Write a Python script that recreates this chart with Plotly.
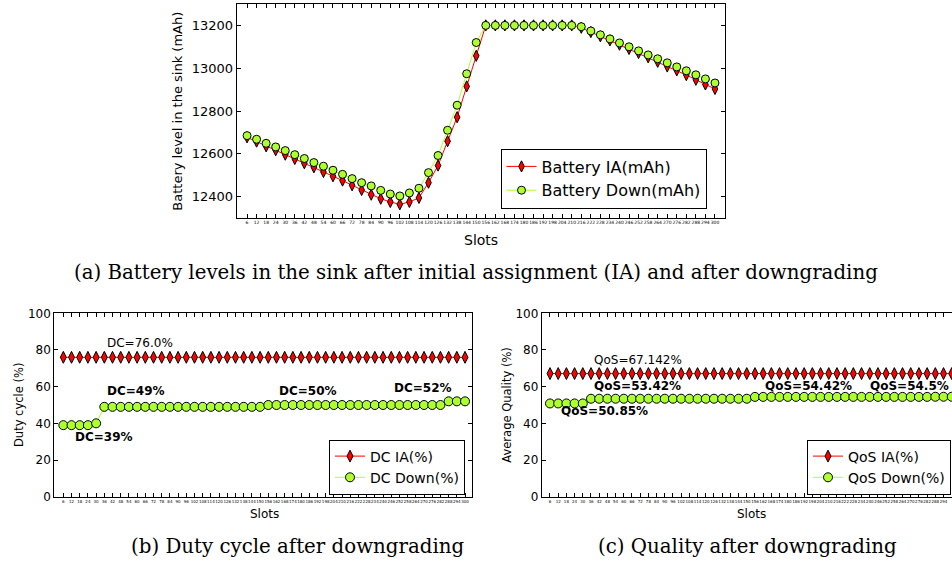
import plotly.graph_objects as go

W, H = 952, 563

slots = [6, 12, 18, 24, 30, 36, 42, 48, 54, 60, 66, 72, 78, 84, 90, 96, 102, 108, 114, 120,
         126, 132, 138, 144, 150, 156, 162, 168, 174, 180, 186, 192, 198, 204, 210, 216, 222,
         228, 234, 240, 246, 252, 258, 264, 270, 276, 282, 288, 294, 300]

battery_ia = [12677, 12657, 12635, 12617, 12596, 12576, 12556, 12537, 12515, 12495,
              12475, 12453, 12431, 12409, 12390, 12375, 12364, 12375, 12394, 12465,
              12545, 12659, 12771, 12915, 13058, 13200, 13200, 13200, 13200, 13200,
              13200, 13200, 13200, 13200, 13200, 13189, 13169, 13149, 13130, 13110,
              13090, 13071, 13051, 13030, 13008, 12990, 12968, 12946, 12924, 12903]
battery_down = [12685, 12668, 12649, 12632, 12615, 12596, 12578, 12559, 12542, 12523,
                12504, 12484, 12465, 12450, 12429, 12412, 12403, 12417, 12439, 12512,
                12592, 12710, 12827, 12974, 13120, 13200, 13200, 13200, 13200, 13200,
                13200, 13200, 13200, 13200, 13200, 13194, 13174, 13156, 13137, 13118,
                13100, 13081, 13062, 13044, 13025, 13006, 12988, 12969, 12950, 12931]

dc_ia = [76.0, 76.0, 76.0, 76.0, 76.0, 76.0, 76.0, 76.0, 76.0, 76.0,
         76.0, 76.0, 76.0, 76.0, 76.0, 76.0, 76.0, 76.0, 76.0, 76.0,
         76.0, 76.0, 76.0, 76.0, 76.0, 76.0, 76.0, 76.0, 76.0, 76.0,
         76.0, 76.0, 76.0, 76.0, 76.0, 76.0, 76.0, 76.0, 76.0, 76.0,
         76.0, 76.0, 76.0, 76.0, 76.0, 76.0, 76.0, 76.0, 76.0, 76.0]
dc_down = [39, 39, 39, 39, 40, 49, 49, 49, 49, 49,
           49, 49, 49, 49, 49, 49, 49, 49, 49, 49,
           49, 49, 49, 49, 49, 50, 50, 50, 50, 50,
           50, 50, 50, 50, 50, 50, 50, 50, 50, 50,
           50, 50, 50, 50, 50, 50, 50, 52, 52, 52]

qos_ia = [67.142, 67.142, 67.142, 67.142, 67.142, 67.142, 67.142, 67.142, 67.142, 67.142,
          67.142, 67.142, 67.142, 67.142, 67.142, 67.142, 67.142, 67.142, 67.142, 67.142,
          67.142, 67.142, 67.142, 67.142, 67.142, 67.142, 67.142, 67.142, 67.142, 67.142,
          67.142, 67.142, 67.142, 67.142, 67.142, 67.142, 67.142, 67.142, 67.142, 67.142,
          67.142, 67.142, 67.142, 67.142, 67.142, 67.142, 67.142, 67.142, 67.142, 67.142]
qos_down = [50.85, 50.85, 50.85, 50.85, 50.85, 53.42, 53.42, 53.42, 53.42, 53.42,
            53.42, 53.42, 53.42, 53.42, 53.42, 53.42, 53.42, 53.42, 53.42, 53.42,
            53.42, 53.42, 53.42, 53.42, 53.42, 54.42, 54.42, 54.42, 54.42, 54.42,
            54.42, 54.42, 54.42, 54.42, 54.42, 54.42, 54.42, 54.42, 54.42, 54.42,
            54.42, 54.42, 54.42, 54.42, 54.42, 54.42, 54.42, 54.5, 54.5, 54.5]

battery_ticks = [12400, 12600, 12800, 13000, 13200]
pct_ticks = [0, 20, 40, 60, 80, 100]

RED = "#ff0000"
GREEN = "#adff2f"
FONT = "DejaVu Sans"
SERIF = "DejaVu Serif"

fig = go.Figure()


def add_pair(x, y_ia, y_down, name_ia, name_down, xa, ya, legend, dsize, csize):
    fig.add_trace(go.Scatter(
        x=x, y=y_ia, name=name_ia, mode="lines+markers", xaxis=xa, yaxis=ya, legend=legend,
        line=dict(color=RED, width=1),
        marker=dict(symbol="diamond-tall", size=dsize, color=RED, line=dict(color="black", width=1)),
        cliponaxis=False))
    fig.add_trace(go.Scatter(
        x=x, y=y_down, name=name_down, mode="lines+markers", xaxis=xa, yaxis=ya, legend=legend,
        line=dict(color=GREEN, width=1),
        marker=dict(symbol="circle", size=csize, color=GREEN, line=dict(color="black", width=1)),
        cliponaxis=False))


add_pair(slots, battery_ia, battery_down, "Battery IA(mAh)", "Battery Down(mAh)", "x", "y", "legend", 8, 8)
add_pair(slots, dc_ia, dc_down, "DC IA(%)", "DC Down(%)", "x2", "y2", "legend2", 8.5, 9)
add_pair(slots, qos_ia, qos_down, "QoS IA(%)", "QoS Down(%)", "x3", "y3", "legend3", 8.5, 9)


def xaxis(domain, rng, anchor, fs):
    return dict(domain=domain, range=rng, anchor=anchor, tickmode="array", tickvals=slots,
                ticktext=[str(s) for s in slots], ticks="inside", ticklen=4, tickcolor="black",
                showline=True, linecolor="black", linewidth=1, mirror="allticks", showgrid=False,
                zeroline=False, tickangle=0, tickfont=dict(family=FONT, size=fs, color="black"))


def yaxis(domain, rng, anchor, vals, fs, mirror):
    return dict(domain=domain, range=rng, anchor=anchor, tickmode="array", tickvals=vals,
                ticktext=[str(v) for v in vals],
                ticks="inside", ticklen=4, tickcolor="black", showline=True, linecolor="black",
                linewidth=1, mirror=mirror, showgrid=False, zeroline=False,
                tickfont=dict(family=FONT, size=fs, color="black"))


fig.update_layout(
    xaxis=xaxis([236.7 / W, 725 / W], [-0.5, 306.3], "y", 4.5),
    yaxis=yaxis([1 - 218 / H, 1 - 4 / H], [12300, 13300], "x", battery_ticks, 13, "allticks"),
    xaxis2=xaxis([54.3 / W, 472 / W], [-0.6, 305.1], "y2", 4),
    yaxis2=yaxis([1 - 496.7 / H, 1 - 313.3 / H], [0, 100], "x2", pct_ticks, 12, "allticks"),
    xaxis3=xaxis([541.7 / W, 1.0], [-0.07, 300.2], "y3", 4),
    yaxis3=yaxis([1 - 496.7 / H, 1 - 313.3 / H], [0, 100], "x3", pct_ticks, 12, False),
)

legend_common = dict(bgcolor="white", bordercolor="black", borderwidth=1,
                     yanchor="middle", tracegroupgap=0)
fig.update_layout(
    legend=dict(x=603.5 / W, xanchor="center", y=1 - 178.5 / H,
                font=dict(family=FONT, size=16, color="black"), **legend_common),
    legend2=dict(x=397 / W, xanchor="center", y=1 - 467 / H,
                 font=dict(family=FONT, size=14, color="black"), **legend_common),
    legend3=dict(x=951 / W, xanchor="right", y=1 - 467 / H,
                 font=dict(family=FONT, size=14, color="black"), **legend_common),
)

annotations = []


def text(x, y, s, size, xref="paper", yref="paper", angle=0, xanchor="center", family=FONT):
    annotations.append(dict(x=x, y=y, xref=xref, yref=yref, text=s, showarrow=False,
                            textangle=angle, xanchor=xanchor, yanchor="middle",
                            font=dict(family=family, size=size, color="black")))


# axis titles
text(176.7 / W, 1 - 111 / H, "Battery level in the sink (mAh)", 13, angle=-90)
text(481 / W, 1 - 240 / H, "Slots", 14)
text(19 / W, 1 - 405 / H, "Duty cycle (%)", 11.5, angle=-90)
text(264 / W, 1 - 514 / H, "Slots", 12)
text(506.7 / W, 1 - 405 / H, "Average Quality (%)", 11.5, angle=-90)
text(751.7 / W, 1 - 514 / H, "Slots", 12)

# captions
text(476 / W, 1 - 272 / H, "(a) Battery levels in the sink after initial assignment (IA) and after downgrading", 19.8, family=SERIF)
text(297 / W, 1 - 546 / H, "(b) Duty cycle after downgrading", 19.8, family=SERIF)
text(747 / W, 1 - 546 / H, "(c) Quality after downgrading", 19.8, family=SERIF)

# value labels (b)
text(36.5, 83.8, "DC=76.0%", 12, "x2", "y2", xanchor="left")
text(36.5, 57.6, "<b>DC=49%</b>", 12, "x2", "y2", xanchor="left")
text(13.1, 32.6, "<b>DC=39%</b>", 12, "x2", "y2", xanchor="left")
text(162.4, 57.6, "<b>DC=50%</b>", 12, "x2", "y2", xanchor="left")
text(246.6, 59.3, "<b>DC=52%</b>", 12, "x2", "y2", xanchor="left")

# value labels (c)
text(36.7, 74.5, "QoS=67.142%", 12, "x3", "y3", xanchor="left")
text(36.7, 60.3, "<b>QoS=53.42%</b>", 12, "x3", "y3", xanchor="left")
text(12.6, 46.7, "<b>QoS=50.85%</b>", 12, "x3", "y3", xanchor="left")
text(161.9, 60.3, "<b>QoS=54.42%</b>", 12, "x3", "y3", xanchor="left")
text(951 / W, 60.3, "<b>QoS=54.5%</b>", 12, "paper", "y3", xanchor="right")

fig.update_layout(
    annotations=annotations,
    width=W, height=H,
    margin=dict(l=0, r=0, t=0, b=0, pad=0, autoexpand=False),
    paper_bgcolor="white", plot_bgcolor="white",
    font=dict(family=FONT, color="black"),
)

fig.write_html("out.html", config={"displayModeBar": False},
               post_script="document.body.style.margin='0';document.body.style.overflow='hidden';")
